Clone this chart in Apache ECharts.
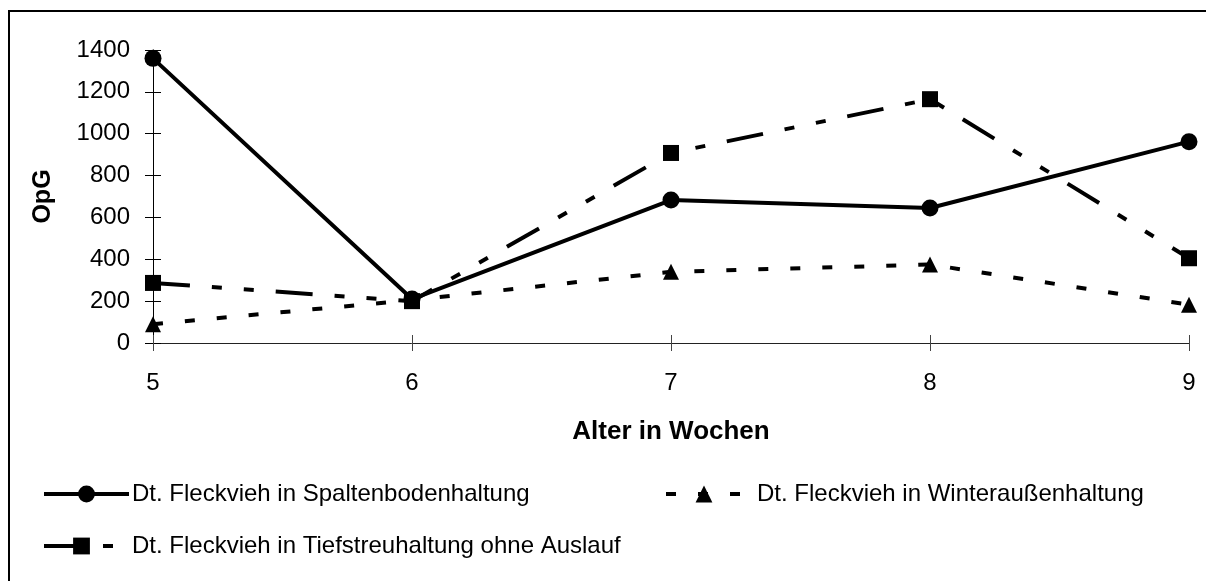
<!DOCTYPE html>
<html><head><meta charset="utf-8">
<script src="https://cdn.jsdelivr.net/npm/echarts@6/dist/echarts.min.js"></script>
<style>html,body{margin:0;padding:0;background:#fff}#c{width:1206px;height:581px}</style>
</head><body><div id="c"></div>
<script>
const categories = ['5', '6', '7', '8', '9'];
const spaltenboden = [1360, 210, 683, 645, 962];
const winteraussen = [90, 205, 340, 375, 183];
const tiefstreu = [287, 200, 908, 1165, 405];
const seriesNames = ['Dt. Fleckvieh in Spaltenbodenhaltung', 'Dt. Fleckvieh in Winteraußenhaltung', 'Dt. Fleckvieh in Tiefstreuhaltung ohne Auslauf'];
const yTicks = { min: 0, max: 1400, interval: 200 };

const FONT = 'Liberation Sans, Arial, sans-serif';
const chart = echarts.init(document.getElementById('c'));
const legendText = { fontFamily: FONT, fontSize: 24, color: '#000' };
const legendLine = { width: 4 };
chart.setOption({
  animation: false,
  backgroundColor: '#fff',
  textStyle: { fontFamily: FONT, color: '#000' },
  grid: { left: 153, right: 17, top: 50, bottom: 238, containLabel: false },
  graphic: [{ type: 'rect', shape: { x: 9, y: 11, width: 1210, height: 600 }, style: { fill: 'none', stroke: '#000', lineWidth: 2 }, silent: true }],
  legend: [
    { data: [seriesNames[0]], left: 37, top: 477, itemWidth: 85, itemHeight: 21, lineStyle: legendLine,
      textStyle: Object.assign({ padding: [0, 0, 0, -2] }, legendText) },
    { data: [seriesNames[1]], left: 659, top: 477, itemWidth: 76, itemHeight: 21, lineStyle: legendLine,
      textStyle: Object.assign({ padding: [0, 0, 0, 10] }, legendText) },
    { data: [seriesNames[2]], left: 37, top: 529, itemWidth: 75, itemHeight: 21, lineStyle: legendLine,
      textStyle: Object.assign({ padding: [0, 0, 0, 8] }, legendText) }
  ],
  xAxis: [{
    type: 'category', data: categories, boundaryGap: false,
    name: 'Alter in Wochen', nameLocation: 'middle', nameGap: 76,
    nameTextStyle: { fontFamily: FONT, fontSize: 26, fontWeight: 'bold', color: '#000' },
    axisLine: { lineStyle: { color: '#222', width: 1 } },
    axisTick: { show: true, alignWithLabel: true, length: 8, lineStyle: { color: '#444' } },
    axisLabel: { fontFamily: FONT, fontSize: 24, color: '#000', margin: 28 },
    splitLine: { show: false }
  }, {
    type: 'category', data: categories, boundaryGap: false, position: 'bottom',
    axisLine: { show: false }, axisTick: { show: true, inside: true, length: 8, lineStyle: { color: '#444' } },
    axisLabel: { show: false }, splitLine: { show: false }
  }],
  yAxis: [{
    type: 'value', min: yTicks.min, max: yTicks.max, interval: yTicks.interval,
    name: 'OpG', nameLocation: 'middle', nameGap: 97,
    nameTextStyle: { fontFamily: FONT, fontSize: 25, fontWeight: 'bold', color: '#000' },
    axisLine: { show: true, lineStyle: { color: '#000', width: 1 } },
    axisTick: { show: true, length: 8, lineStyle: { color: '#000' } },
    axisLabel: { fontFamily: FONT, fontSize: 24, color: '#000', margin: 23, formatter: function (v) { return String(v); } },
    splitLine: { show: false }
  }, {
    type: 'value', min: yTicks.min, max: yTicks.max, interval: yTicks.interval, position: 'left',
    axisLine: { show: false }, axisTick: { show: true, inside: true, length: 8, lineStyle: { color: '#000' } },
    axisLabel: { show: false }, splitLine: { show: false }
  }],
  series: [
    { name: seriesNames[0], type: 'line', data: spaltenboden, symbol: 'circle', symbolSize: 17,
      itemStyle: { color: '#000' }, lineStyle: { color: '#000', width: 4 }, z: 3 },
    { name: seriesNames[1], type: 'line', data: winteraussen, symbol: 'triangle', symbolSize: 16,
      itemStyle: { color: '#000' }, lineStyle: { color: '#000', width: 4, type: [10, 22] }, z: 2 },
    { name: seriesNames[2], type: 'line', data: tiefstreu, symbol: 'rect', symbolSize: 16,
      itemStyle: { color: '#000' }, lineStyle: { color: '#000', width: 4, type: [37, 22, 10, 22, 10, 22] }, z: 2 }
  ]
});
</script></body></html>
